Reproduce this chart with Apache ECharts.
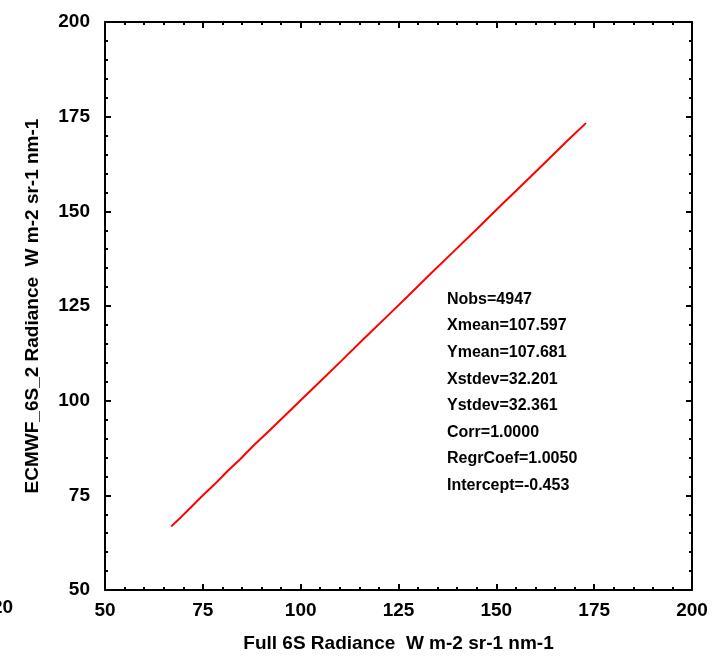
<!DOCTYPE html>
<html>
<head>
<meta charset="utf-8">
<script src="https://cdn.jsdelivr.net/npm/echarts@6/dist/echarts.min.js"></script>
<style>
  html, body { margin: 0; padding: 0; background: #fff; }
  #chart { width: 715px; height: 658px; }
</style>
</head>
<body>
<div id="chart"></div>
<script>
// radiance pairs (full 6S vs ECMWF 6S_2)
const fullRad = [66.9, 69.5, 72.3, 75.1, 78.0, 81.2, 84.6, 88.1, 91.7, 95.4, 100.2, 105.3, 110.6, 116.0, 121.8, 127.5, 133.2, 139.0, 145.1, 151.2, 157.3, 163.4, 168.6, 172.9]
const ecmwfRad = [66.8, 69.3, 72.2, 75.1, 77.9, 81.3, 84.6, 88.3, 91.8, 95.5, 100.3, 105.4, 110.7, 116.2, 122.0, 127.7, 133.5, 139.3, 145.4, 151.6, 157.7, 163.8, 169.1, 173.3]
const statLines = ['Nobs=4947', 'Xmean=107.597', 'Ymean=107.681', 'Xstdev=32.201', 'Ystdev=32.361', 'Corr=1.0000', 'RegrCoef=1.0050', 'Intercept=-0.453']

const chart = echarts.init(document.getElementById('chart'))
const font = "'Liberation Sans', Arial, sans-serif"

const axisBase = {
  type: 'value',
  min: 50,
  max: 200,
  interval: 25,
  splitLine: { show: false },
  axisLine: { show: true, lineStyle: { color: '#000', width: 2 } },
  axisTick: { show: true, inside: true, length: 6, lineStyle: { color: '#000', width: 2 } },
  minorTick: { show: true, splitNumber: 5, length: 3, lineStyle: { color: '#000', width: 2 } },
  axisLabel: { color: '#000', fontSize: 19, fontWeight: 'bold', fontFamily: font }
}

chart.setOption({
  animation: false,
  backgroundColor: '#fff',
  grid: { left: 105, top: 22, width: 587, height: 569 },
  xAxis: [
    Object.assign({}, axisBase, {
      position: 'bottom',
      name: 'Full 6S Radiance  W m-2 sr-1 nm-1',
      nameLocation: 'middle',
      nameGap: 44,
      nameTextStyle: { color: '#000', fontSize: 19, fontWeight: 'bold', fontFamily: font },
      axisLabel: Object.assign({}, axisBase.axisLabel, { margin: 11 })
    }),
    Object.assign({}, axisBase, { position: 'top', axisLabel: { show: false } })
  ],
  yAxis: [
    Object.assign({}, axisBase, {
      position: 'left',
      name: 'ECMWF_6S_2 Radiance  W m-2 sr-1 nm-1',
      nameLocation: 'middle',
      nameGap: 63,
      nameTextStyle: { color: '#000', fontSize: 19, fontWeight: 'bold', fontFamily: font },
      axisLabel: Object.assign({}, axisBase.axisLabel, { margin: 15 })
    }),
    Object.assign({}, axisBase, { position: 'right', axisLabel: { show: false } })
  ],
  graphic: [
    {
      type: 'text',
      left: 447,
      top: 286,
      style: {
        text: statLines.join('\n'),
        font: 'bold 16px ' + font,
        lineHeight: 26.6,
        fill: '#000'
      }
    },
    {
      type: 'text',
      left: -8,
      top: 598,
      style: { text: '20', font: 'bold 19px ' + font, fill: '#000' }
    }
  ],
  series: [
    {
      type: 'line',
      data: fullRad.map((x, i) => [x, ecmwfRad[i]]),
      showSymbol: false,
      lineStyle: { color: '#ff0000', width: 2 },
      z: 3
    }
  ]
})
</script>
</body>
</html>
